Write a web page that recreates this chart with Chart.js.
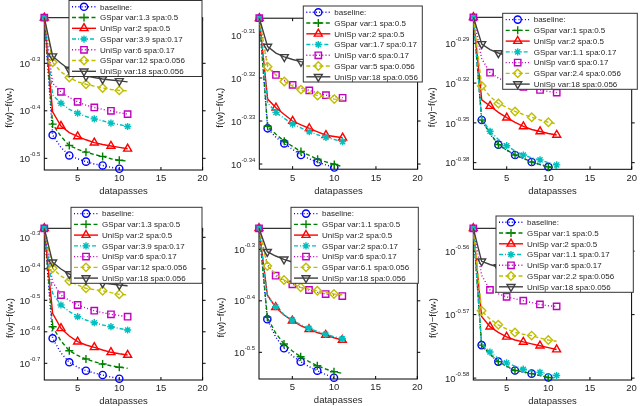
<!DOCTYPE html>
<html>
<head>
<meta charset="utf-8">
<script src="https://cdn.jsdelivr.net/npm/chart.js@4.4.1/dist/chart.umd.min.js"></script>
<style>
html, body { margin: 0; padding: 0; background: #fff; }
#wrap { position: relative; width: 640px; height: 406px; overflow: hidden; }
#wrap canvas { position: absolute; left: 0; top: 0; }
</style>
</head>
<body>
<div id="wrap">
  <canvas id="c0" width="640" height="420"></canvas>
  <canvas id="c1" width="640" height="420"></canvas>
  <canvas id="c2" width="640" height="420"></canvas>
  <canvas id="c3" width="640" height="420"></canvas>
  <canvas id="c4" width="640" height="420"></canvas>
  <canvas id="c5" width="640" height="420"></canvas>
</div>
<script>
// x values (datapasses) and x tick labels
const datapasses = [1, 2, 3, 4, 5, 6, 7, 8, 9, 10, 11];
const xTicks = [5, 10, 15, 20];

// legend texts for each panel
const legendA = ['baseline:', 'GSpar var:1.3 spa:0.5', 'UniSp var:2 spa:0.5', 'GSpar var:3.9 spa:0.17', 'UniSp var:6 spa:0.17', 'GSpar var:12 spa:0.056', 'UniSp var:18 spa:0.056'];
const legendB = ['baseline:', 'GSpar var:1 spa:0.5', 'UniSp var:2 spa:0.5', 'GSpar var:1.7 spa:0.17', 'UniSp var:6 spa:0.17', 'GSpar var:5 spa:0.056', 'UniSp var:18 spa:0.056'];
const legendC = ['baseline:', 'GSpar var:1 spa:0.5', 'UniSp var:2 spa:0.5', 'GSpar var:1.1 spa:0.17', 'UniSp var:6 spa:0.17', 'GSpar var:2.4 spa:0.056', 'UniSp var:18 spa:0.056'];
const legendD = legendA;
const legendE = ['baseline:', 'GSpar var:1.1 spa:0.5', 'UniSp var:2 spa:0.5', 'GSpar var:2 spa:0.17', 'UniSp var:6 spa:0.17', 'GSpar var:6.1 spa:0.056', 'UniSp var:18 spa:0.056'];
const legendF = ['baseline:', 'GSpar var:1 spa:0.5', 'UniSp var:2 spa:0.5', 'GSpar var:1.1 spa:0.17', 'UniSp var:6 spa:0.17', 'GSpar var:2.2 spa:0.056', 'UniSp var:18 spa:0.056'];

// y tick exponents (labels are 10^tick) and y ranges, log10 of f(w)-f(w*)
const yTicksA = [-0.3, -0.4, -0.5];
const yTicksB = [-0.31, -0.32, -0.33, -0.34];
const yTicksC = [-0.29, -0.32, -0.35, -0.38];
const yTicksD = [-0.3, -0.4, -0.5, -0.6, -0.7];
const yTicksE = [-0.3, -0.4, -0.5];
const yTicksF = [-0.56, -0.57, -0.58];
const yRangeA = [-0.5246, -0.204];
const yRangeB = [-0.3412, -0.3061];
const yRangeC = [-0.385, -0.2704];
const yRangeD = [-0.753, -0.2714];
const yRangeE = [-0.5518, -0.2592];
const yRangeF = [-0.5803, -0.5564];

// log10(f(w)-f(w*)) per series, order: baseline, GSpar, UniSp, GSpar, UniSp, GSpar, UniSp
const logGapA = [
  [-0.204, -0.451, -0.477, -0.494, -0.501, -0.507, -0.512, -0.515, -0.519, -0.522],
  [-0.204, -0.428, -0.454, -0.473, -0.481, -0.487, -0.492, -0.496, -0.501, -0.504, -0.506],
  [-0.204, -0.402, -0.432, -0.446, -0.454, -0.461, -0.467, -0.471, -0.474, -0.477, -0.480],
  [-0.204, -0.367, -0.384, -0.397, -0.405, -0.412, -0.417, -0.421, -0.426, -0.429, -0.433],
  [-0.204, -0.342, -0.360, -0.372, -0.381, -0.388, -0.393, -0.397, -0.400, -0.404, -0.407],
  [-0.204, -0.298, -0.318, -0.330, -0.339, -0.344, -0.348, -0.352, -0.355, -0.357, -0.358],
  [-0.204, -0.285, -0.300, -0.313, -0.321, -0.327, -0.330, -0.333, -0.335, -0.337, -0.339]
];
const logGapB = [
  [-0.3061, -0.3317, -0.3338, -0.3352, -0.3366, -0.3379, -0.3388, -0.3396, -0.3402, -0.3408],
  [-0.3061, -0.3312, -0.3331, -0.3347, -0.3359, -0.3371, -0.3380, -0.3389, -0.3395, -0.3401, -0.3406],
  [-0.3061, -0.3249, -0.3269, -0.3285, -0.3300, -0.3309, -0.3317, -0.3325, -0.3333, -0.3336, -0.3339],
  [-0.3061, -0.3258, -0.3280, -0.3294, -0.3307, -0.3316, -0.3325, -0.3332, -0.3338, -0.3343, -0.3348],
  [-0.3061, -0.3172, -0.3193, -0.3205, -0.3216, -0.3223, -0.3229, -0.3235, -0.3240, -0.3243, -0.3246],
  [-0.3061, -0.3174, -0.3193, -0.3208, -0.3219, -0.3227, -0.3234, -0.3241, -0.3245, -0.3249, -0.3251],
  [-0.3061, -0.3127, -0.3142, -0.3151, -0.3157, -0.3162, -0.3165, -0.3169, -0.3171, -0.3173, -0.3176]
];
const logGapC = [
  [-0.2704, -0.3478, -0.3583, -0.3664, -0.3707, -0.3742, -0.3768, -0.3795, -0.3815, -0.3832],
  [-0.2704, -0.3478, -0.3580, -0.3664, -0.3705, -0.3742, -0.3767, -0.3795, -0.3814, -0.3832, -0.3840],
  [-0.2704, -0.3327, -0.3373, -0.3421, -0.3461, -0.3497, -0.3527, -0.3550, -0.3565, -0.3580, -0.3591],
  [-0.2704, -0.3470, -0.3563, -0.3625, -0.3672, -0.3712, -0.3742, -0.3764, -0.3779, -0.3801, -0.3817],
  [-0.2704, -0.3016, -0.3122, -0.3162, -0.3192, -0.3214, -0.3229, -0.3241, -0.3252, -0.3263, -0.3272],
  [-0.2704, -0.3222, -0.3301, -0.3354, -0.3384, -0.3414, -0.3437, -0.3458, -0.3478, -0.3495, -0.3508],
  [-0.2704, -0.2905, -0.2947, -0.2973, -0.2992, -0.3007, -0.3018, -0.3030, -0.3037, -0.3045, -0.3052]
];
const logGapD = [
  [-0.2714, -0.6206, -0.6673, -0.6968, -0.7124, -0.7235, -0.7308, -0.7371, -0.7435, -0.7489],
  [-0.2714, -0.5838, -0.6292, -0.6600, -0.6752, -0.6863, -0.6952, -0.7022, -0.7079, -0.7127, -0.7159],
  [-0.2714, -0.5413, -0.5889, -0.6133, -0.6314, -0.6419, -0.6492, -0.6578, -0.6651, -0.6698, -0.6737],
  [-0.2714, -0.4778, -0.5149, -0.5356, -0.5521, -0.5625, -0.5711, -0.5784, -0.5838, -0.5895, -0.5943],
  [-0.2714, -0.4419, -0.4832, -0.5006, -0.5149, -0.5244, -0.5330, -0.5390, -0.5444, -0.5483, -0.5521],
  [-0.2714, -0.3984, -0.4229, -0.4387, -0.4514, -0.4619, -0.4660, -0.4695, -0.4756, -0.4810, -0.4832],
  [-0.2714, -0.3794, -0.4006, -0.4165, -0.4276, -0.4356, -0.4413, -0.4451, -0.4483, -0.4514, -0.4537]
];
const logGapE = [
  [-0.2592, -0.4359, -0.4703, -0.4922, -0.5068, -0.5183, -0.5276, -0.5357, -0.5431, -0.5493],
  [-0.2592, -0.4320, -0.4625, -0.4839, -0.4975, -0.5085, -0.5179, -0.5260, -0.5324, -0.5377, -0.5408],
  [-0.2592, -0.3887, -0.4126, -0.4276, -0.4386, -0.4480, -0.4553, -0.4616, -0.4664, -0.4717, -0.4761],
  [-0.2592, -0.3907, -0.4115, -0.4266, -0.4373, -0.4464, -0.4534, -0.4596, -0.4651, -0.4695, -0.4736],
  [-0.2592, -0.3285, -0.3513, -0.3606, -0.3680, -0.3742, -0.3790, -0.3833, -0.3868, -0.3887, -0.3907],
  [-0.2592, -0.3324, -0.3480, -0.3596, -0.3674, -0.3738, -0.3775, -0.3804, -0.3839, -0.3868, -0.3883],
  [-0.2592, -0.3047, -0.3130, -0.3194, -0.3247, -0.3285, -0.3315, -0.3344, -0.3363, -0.3383, -0.3402]
];
const logGapF = [
  [-0.5564, -0.5748, -0.5763, -0.5774, -0.5782, -0.5788, -0.5791, -0.5793, -0.5796, -0.5799],
  [-0.5564, -0.5748, -0.5762, -0.5774, -0.5781, -0.5788, -0.5790, -0.5793, -0.5796, -0.5799, -0.5800],
  [-0.5564, -0.5703, -0.5719, -0.5728, -0.5735, -0.5740, -0.5743, -0.5746, -0.5749, -0.5752, -0.5755],
  [-0.5564, -0.5746, -0.5759, -0.5769, -0.5776, -0.5781, -0.5786, -0.5789, -0.5791, -0.5794, -0.5796],
  [-0.5564, -0.5638, -0.5661, -0.5667, -0.5672, -0.5675, -0.5678, -0.5681, -0.5684, -0.5686, -0.5687],
  [-0.5564, -0.5694, -0.5707, -0.5716, -0.5723, -0.5728, -0.5731, -0.5733, -0.5737, -0.5740, -0.5742],
  [-0.5564, -0.5616, -0.5621, -0.5625, -0.5628, -0.5631, -0.5632, -0.5634, -0.5635, -0.5636, -0.5637]
];

// line / marker style of the 7 series (matlab like); phase = which points carry a marker
const seriesStyle = [
  { color: '#0000ff', dash: [1, 2.2], point: 'circle', rot: 0, r: 3.6, phase: 1 },
  { color: '#008000', dash: [4, 2.5], point: 'cross', rot: 0, r: 4, phase: 1 },
  { color: '#ff0000', dash: [], point: 'triangle', rot: 0, r: 4.6, phase: 0 },
  { color: '#00bfbf', dash: [4, 2, 1, 2], point: 'star', rot: 0, r: 3.6, phase: 0 },
  { color: '#bf00bf', dash: [1, 2.2], point: 'rect', rot: 0, r: 4.5, phase: 0 },
  { color: '#bfbf00', dash: [4, 2.5], point: 'rectRot', rot: 0, r: 4.2, phase: 1 },
  { color: '#404040', dash: [], point: 'triangle', rot: 180, r: 4.6, phase: 1 }
];

// panel placement: plot area [left, top, right, bottom], legend box [left, top, right, bottom]
const panels = [
  { id: 'c0', data: logGapA, legend: legendA, yTicks: yTicksA, yRange: yRangeA, area: [44.3, 17.7, 202.6, 170], box: [69, 0.5, 202, 76.5], yTitleX: 5.5 },
  { id: 'c1', data: logGapB, legend: legendB, yTicks: yTicksB, yRange: yRangeB, area: [259.3, 18.2, 417.6, 169.2], box: [303.3, 6, 422.3, 82], yTitleX: 216.8 },
  { id: 'c2', data: logGapC, legend: legendC, yTicks: yTicksC, yRange: yRangeC, area: [473.4, 17.3, 631.7, 169.3], box: [502.7, 13.3, 637.3, 89.3], yTitleX: 428 },
  { id: 'c3', data: logGapD, legend: legendD, yTicks: yTicksD, yRange: yRangeD, area: [44.3, 228.3, 202.6, 380], box: [71, 207.3, 202, 283.3], yTitleX: 6 },
  { id: 'c4', data: logGapE, legend: legendE, yTicks: yTicksE, yRange: yRangeE, area: [259, 228.3, 417.3, 379], box: [291, 207.3, 418.3, 283.3], yTitleX: 217.3 },
  { id: 'c5', data: logGapF, legend: legendF, yTicks: yTicksF, yRange: yRangeF, area: [473.3, 228.3, 631.6, 380], box: [496, 216, 633.3, 292.3], yTitleX: 429 }
];

const FONT = "'Liberation Sans', Arial, sans-serif";
const TEXT = '#262626';
const CANVAS_W = 640, CANVAS_H = 420, X_AXIS_H = 30;

// frame, inward ticks, y labels with superscripts and the boxed legend
const matlabAxes = {
  id: 'matlabAxes',
  beforeDatasetsDraw(chart, args, opts) {
    const { ctx, chartArea: a } = chart;
    const x = chart.scales.x, y = chart.scales.y;
    ctx.save();
    ctx.strokeStyle = '#000';
    ctx.lineWidth = 1;
    ctx.strokeRect(a.left, a.top, a.right - a.left, a.bottom - a.top);
    ctx.beginPath();
    xTicks.forEach(v => {
      const px = x.getPixelForValue(v);
      ctx.moveTo(px, a.bottom); ctx.lineTo(px, a.bottom - 3);
      ctx.moveTo(px, a.top); ctx.lineTo(px, a.top + 3);
    });
    opts.yTicks.forEach(v => {
      const py = y.getPixelForValue(v);
      ctx.moveTo(a.left, py); ctx.lineTo(a.left + 3, py);
      ctx.moveTo(a.right, py); ctx.lineTo(a.right + 3, py);
    });
    ctx.stroke();
    ctx.restore();
  },
  afterDraw(chart, args, opts) {
    const { ctx, chartArea: a } = chart;
    const y = chart.scales.y;
    ctx.save();
    ctx.fillStyle = TEXT;
    ctx.textBaseline = 'middle';
    ctx.textAlign = 'left';

    // y tick labels: 10 with the exponent raised
    opts.yTicks.forEach(v => {
      const py = y.getPixelForValue(v);
      const exp = String(v);
      ctx.font = '6px ' + FONT;
      const wExp = ctx.measureText(exp).width;
      ctx.font = '9.5px ' + FONT;
      const wBase = ctx.measureText('10').width;
      const xEnd = a.left - 4;
      ctx.fillText('10', xEnd - wExp - wBase, py + 1);
      ctx.font = '6px ' + FONT;
      ctx.fillText(exp, xEnd - wExp, py - 3.5);
    });

    // y title f(w)-f(w*) with subscript
    const cy = (a.top + a.bottom) / 2 + 14;
    ctx.translate(opts.yTitleX + 4, cy);
    ctx.rotate(-Math.PI / 2);
    ctx.font = '9.5px ' + FONT;
    const p1 = 'f(w)\u2212f(w', p3 = ')';
    const w1 = ctx.measureText(p1).width, w3 = ctx.measureText(p3).width;
    ctx.font = '7px ' + FONT;
    const w2 = ctx.measureText('*').width;
    const tx = -(w1 + w2 + w3) / 2;
    ctx.font = '9.5px ' + FONT;
    ctx.fillText(p1, tx, 0);
    ctx.font = '7px ' + FONT;
    ctx.fillText('*', tx + w1, 3);
    ctx.font = '9.5px ' + FONT;
    ctx.fillText(p3, tx + w1 + w2, 0);
    ctx.setTransform(1, 0, 0, 1, 0, 0);
    ctx.restore();

    // legend box
    const [bl, bt, br, bb] = opts.box;
    ctx.save();
    ctx.fillStyle = '#fff';
    ctx.fillRect(bl, bt, br - bl, bb - bt);
    ctx.strokeStyle = '#333';
    ctx.lineWidth = 1;
    ctx.strokeRect(bl, bt, br - bl, bb - bt);
    chart.data.datasets.forEach((ds, i) => {
      const st = seriesStyle[i];
      const ry = bt + 6.3 + i * 10.75;
      ctx.strokeStyle = st.color;
      ctx.lineWidth = 1.4;
      ctx.setLineDash(st.dash);
      ctx.beginPath();
      ctx.moveTo(bl + 3, ry);
      ctx.lineTo(bl + 27, ry);
      ctx.stroke();
      ctx.setLineDash([]);
      ctx.fillStyle = 'rgba(0,0,0,0)';
      Chart.helpers.drawPoint(ctx, { pointStyle: st.point, rotation: st.rot, radius: st.r, borderWidth: 1.4 }, bl + 15, ry);
      ctx.fillStyle = TEXT;
      ctx.font = '8px ' + FONT;
      ctx.textBaseline = 'middle';
      ctx.fillText(ds.label, bl + 31, ry + 0.5);
    });
    ctx.restore();
  }
};

panels.forEach(p => {
  const [l, t, r, b] = p.area;
  const datasets = p.data.map((vals, i) => {
    const st = seriesStyle[i];
    return {
      label: p.legend[i],
      data: vals.map((v, k) => ({ x: datapasses[k], y: v })),
      borderColor: st.color,
      borderWidth: 1.4,
      borderDash: st.dash,
      pointStyle: st.point,
      pointRotation: st.rot,
      pointRadius: vals.map((v, k) => (k % 2 === st.phase ? st.r : 0)),
      pointBorderWidth: 1.4,
      pointBorderColor: st.color,
      pointBackgroundColor: 'rgba(0,0,0,0)',
      tension: 0,
      clip: 8,
      order: seriesStyle.length - i
    };
  });

  new Chart(document.getElementById(p.id), {
    type: 'line',
    data: { datasets },
    options: {
      responsive: false,
      animation: false,
      events: [],
      layout: { padding: { left: l, top: t, right: CANVAS_W - r, bottom: CANVAS_H - b - X_AXIS_H } },
      plugins: {
        legend: { display: false },
        tooltip: { enabled: false },
        matlabAxes: { yTicks: p.yTicks, box: p.box, yTitleX: p.yTitleX }
      },
      scales: {
        x: {
          type: 'linear',
          min: 1,
          max: 20,
          afterBuildTicks: s => { s.ticks = xTicks.map(v => ({ value: v })); },
          afterFit: s => { s.height = X_AXIS_H; },
          grid: { display: false, drawTicks: false },
          border: { display: false },
          ticks: { color: TEXT, font: { family: FONT, size: 9.5 }, padding: 3, maxRotation: 0 },
          title: { display: true, text: 'datapasses', color: TEXT, font: { family: FONT, size: 9.5 }, padding: { top: 0, bottom: 2.6 } }
        },
        y: {
          type: 'linear',
          display: false,
          min: p.yRange[0],
          max: p.yRange[1]
        }
      }
    },
    plugins: [matlabAxes]
  });
});
</script>
</body>
</html>
